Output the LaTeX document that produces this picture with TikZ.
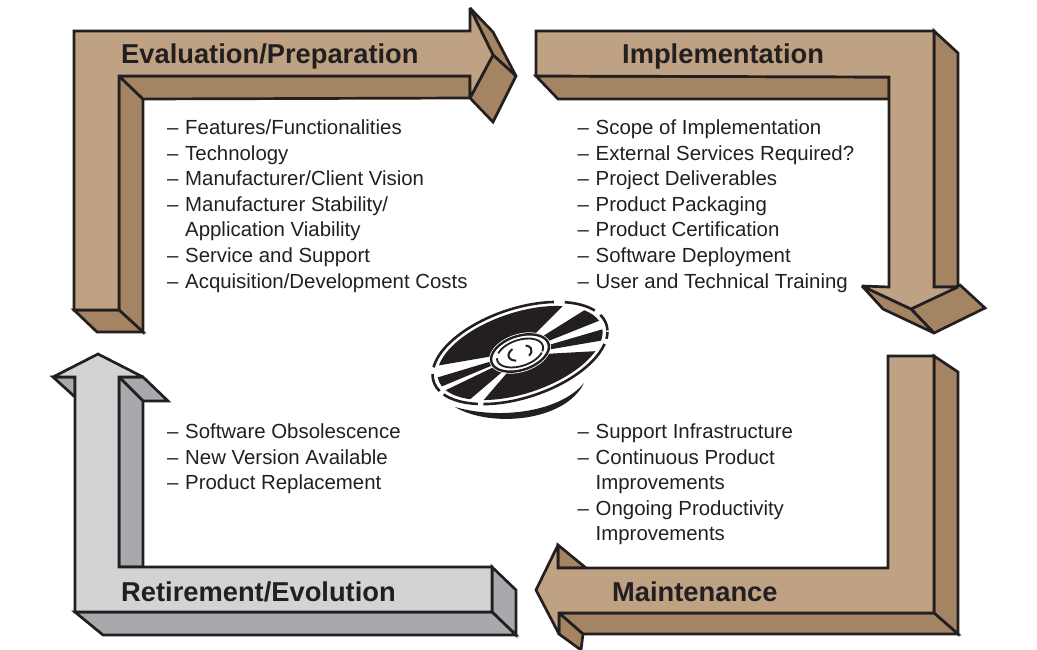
\documentclass[tikz,border=0pt]{standalone}
\usepackage{fontspec}
\setmainfont{Liberation Sans}
\usepackage{tikz}
\usetikzlibrary{positioning}
\definecolor{tanfront}{HTML}{BFA183}
\definecolor{tanside}{HTML}{A58463}
\definecolor{greyfront}{HTML}{D1D3D4}
\definecolor{greyside}{HTML}{A7A9AC}
\definecolor{inkline}{HTML}{231F20}
\tikzset{
  front/.style={draw=inkline, line width=2.7pt, line join=miter, miter limit=3},
  tanF/.style={front, fill=tanfront},
  tanS/.style={front, fill=tanside},
  greyF/.style={front, fill=greyfront},
  greyS/.style={front, fill=greyside},
  phase/.style={font=\fontsize{27.3}{30}\selectfont\bfseries, text=inkline, inner sep=0pt, anchor=base west},
  items/.style={font=\fontsize{20.4}{25.6}\selectfont, text=inkline, inner sep=0pt, anchor=north west, align=left}
}
\newcommand{\itm}[1]{\makebox[18pt][l]{--}#1}
\newcommand{\cont}[1]{\makebox[18pt][l]{}#1}
% one black sector of the disc, angles along the ellipse
\newcommand{\discwedge}[2]{
  \fill[inkline] (#1:30 and 17) -- (#1:86 and 40.5) arc[start angle=#1, end angle=#2, x radius=86, y radius=40.5]
    -- (#2:30 and 17) arc[start angle=#2, end angle=#1, x radius=30, y radius=17] -- cycle;
}
\newcommand{\discrim}[2]{
  \draw[inkline, line width=2.6pt] (#1:91 and 44.5) arc[start angle=#1, end angle=#2, x radius=91, y radius=44.5];
}
\begin{document}
\begin{tikzpicture}[x=1pt,y=-1pt]
  \useasboundingbox (0,0) rectangle (1037,650);

  % evaluation arrow
  \draw[tanS] (119,76) -- (143,99) -- (143,332) -- (119,310) -- cycle;
  \draw[tanS] (74,310) -- (119,310) -- (143,332) -- (97,332) -- cycle;
  \draw[tanS] (119,76) -- (470,76) -- (470,98) -- (143,99) -- cycle;
  \draw[tanS] (470,8) -- (493,32) -- (516,76) -- (493,55) -- cycle;
  \draw[tanS] (493,55) -- (516,76) -- (493,122) -- (470,98) -- cycle;
  \draw[tanF] (74,31) -- (470,31) -- (470,8) -- (493,55) -- (470,98) -- (470,76) -- (119,76) -- (119,310) -- (74,310) -- cycle;

  % implementation arrow
  \draw[tanS] (536,76) -- (889,77) -- (889,99) -- (558,99) -- cycle;
  \draw[tanS] (934,31) -- (958,53) -- (958,287) -- (934,287) -- cycle;
  \draw[tanS] (911,309) -- (960,285) -- (985,308) -- (934,333) -- cycle;
  \draw[tanS] (862,286) -- (911,309) -- (934,333) -- (883,309) -- cycle;
  \draw[tanF] (536,31) -- (934,31) -- (934,287) -- (958,287) -- (911,309) -- (862,286) -- (889,287) -- (889,77) -- (536,76) -- cycle;

  % maintenance arrow
  \draw[tanS] (934,356) -- (958,372) -- (958,634) -- (934,613) -- cycle;
  \draw[tanS] (559,613) -- (934,613) -- (958,634) -- (583,634) -- cycle;
  \draw[tanS] (559,613) -- (583,634) -- (581,650) -- (559,634) -- cycle;
  \draw[tanS] (558,545) -- (586,568) -- (558,568) -- cycle;
  \draw[tanF] (888,356) -- (934,356) -- (934,613) -- (559,613) -- (559,634) -- (536,590) -- (558,545) -- (558,568) -- (888,568) -- cycle;

  % retirement arrow
  \draw[greyS] (53,377) -- (75,377) -- (75,397) -- cycle;
  \draw[greyS] (119,377) -- (143,377) -- (168,401) -- (143,401) -- cycle;
  \draw[greyS] (119,377) -- (143,401) -- (143,567) -- (119,567) -- cycle;
  \draw[greyS] (492,567) -- (516,590) -- (516,635) -- (492,612) -- cycle;
  \draw[greyS] (75,612) -- (492,612) -- (516,635) -- (103,635) -- cycle;
  \draw[greyF] (75,612) -- (75,377) -- (53,377) -- (98,354) -- (143,377) -- (119,377) -- (119,567) -- (492,567) -- (492,612) -- cycle;

  % disc
  \fill[inkline] (455,407) .. controls (490,428) and (565,422) .. (584,383) .. controls (560,412) and (500,420) .. (455,407) -- cycle;
  \begin{scope}[shift={(520,353)},rotate=18.4,y=1pt]
    \discwedge{50}{160}
    \discwedge{8}{30}
    \discwedge{-20}{-5}
    \discwedge{-125}{-33}
    \discwedge{176}{190}
    \discwedge{197}{224}
    \discrim{58}{162}
    \discrim{22}{50}
    \discrim{-8}{14}
    \discrim{-18}{-10}
    \discrim{-124}{-24}
    \discrim{170}{194}
    \discrim{200}{232}
    \fill[white] (0,0) ellipse (32 and 19);
    \draw[inkline, line width=2.4pt] (0,0) ellipse (30 and 17);
    \draw[inkline, line width=1.8pt] (-25:24 and 13) arc[start angle=-25, end angle=150, x radius=24, y radius=13];
    \draw[inkline, line width=1.8pt] (170:24 and 13) arc[start angle=170, end angle=330, x radius=24, y radius=13];
    \draw[inkline, line width=2pt] (120:12 and 7) arc[start angle=120, end angle=240, x radius=12, y radius=7];
    \draw[inkline, line width=2pt] (-50:12 and 7) arc[start angle=-50, end angle=50, x radius=12, y radius=7];
  \end{scope}

  % labels
  \node[phase] (evalTitle) at (121,64) {Evaluation/Preparation};
  \node[phase] (implTitle) at (622,64) {Implementation};
  \node[phase] (maintTitle) at (612,601) {Maintenance};
  \node[phase] (retireTitle) at (121,601) {Retirement/Evolution};

  \node[items] (evalItems) at (167,119.5) {\itm{Features/Functionalities}\\ \itm{Technology}\\ \itm{Manufacturer/Client Vision}\\ \itm{Manufacturer Stability/}\\ \cont{Application Viability}\\ \itm{Service and Support}\\ \itm{Acquisition/Development Costs}};
  \node[items] (implItems) at (577.5,119.5) {\itm{Scope of Implementation}\\ \itm{External Services Required?}\\ \itm{Project Deliverables}\\ \itm{Product Packaging}\\ \itm{Product Certification}\\ \itm{Software Deployment}\\ \itm{User and Technical Training}};
  \node[items] (maintItems) at (577.5,423.5) {\itm{Support Infrastructure}\\ \itm{Continuous Product}\\ \cont{Improvements}\\ \itm{Ongoing Productivity}\\ \cont{Improvements}};
  \node[items] (retireItems) at (167,423.5) {\itm{Software Obsolescence}\\ \itm{New Version Available}\\ \itm{Product Replacement}};
\end{tikzpicture}
\end{document}
